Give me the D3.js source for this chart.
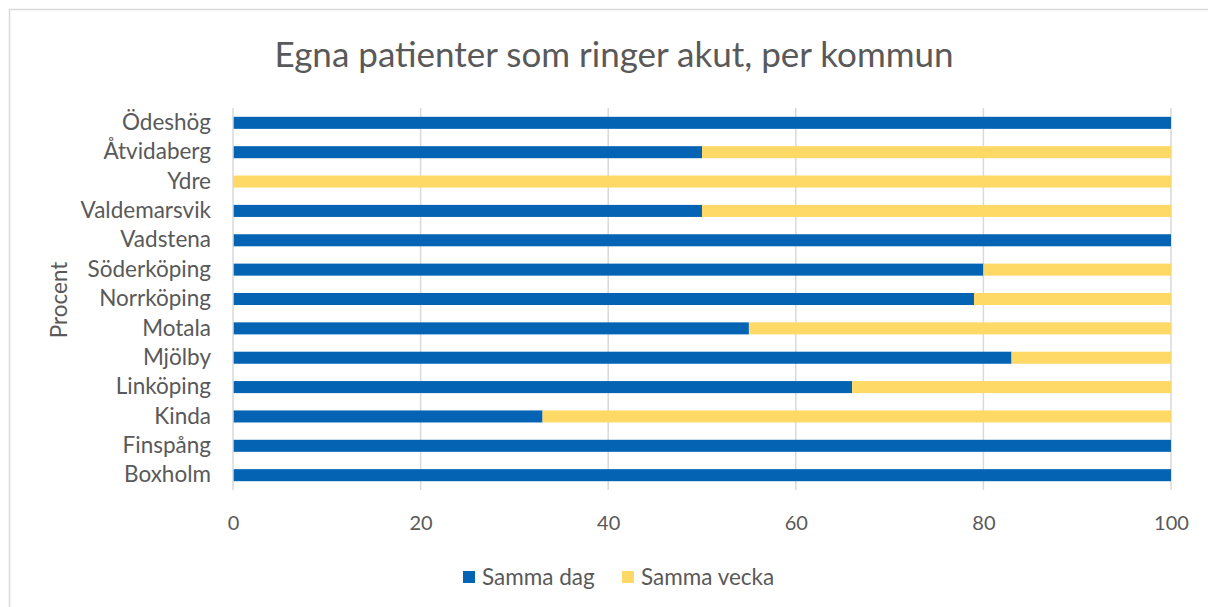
<!DOCTYPE html>
<html>
<head>
<meta charset="utf-8">
<script src="https://cdn.jsdelivr.net/npm/d3@7"></script>
<style>
  body { margin: 0; background: #fff; }
  svg { display: block; font-family: Lato, "Open Sans", sans-serif; }
</style>
</head>
<body>
<svg id="chart" width="1208" height="607"></svg>
<script>
const categories = ["Boxholm", "Finspång", "Kinda", "Linköping", "Mjölby", "Motala", "Norrköping",
  "Söderköping", "Vadstena", "Valdemarsvik", "Ydre", "Åtvidaberg", "Ödeshög"];
const sammaDag = [100, 100, 33, 66, 83, 55, 79, 80, 100, 50, 0, 50, 100];
const sammaVecka = [0, 0, 67, 34, 17, 45, 21, 20, 0, 50, 100, 50, 0];
const seriesNames = ["Samma dag", "Samma vecka"];
const xTicks = [0, 20, 40, 60, 80, 100];

const colors = ["#0563B4", "#FFD966"];
const textColor = "#595959";

const svg = d3.select("#chart");

// outer chart border
svg.append("rect")
  .attr("x", 9.5).attr("y", 9.5)
  .attr("width", 1220).attr("height", 620)
  .attr("fill", "none")
  .attr("stroke", "#d9d9d9")
  .attr("stroke-width", 1.5);

const plotLeft = 233, plotRight = 1171, plotTop = 108, plotBottom = 490;

const x = d3.scaleLinear().domain([0, 100]).range([plotLeft, plotRight]);
const y = d3.scaleBand()
  .domain(categories.slice().reverse())
  .range([plotTop, plotBottom])
  .paddingInner(0.59)
  .paddingOuter(0.3);

// title
svg.append("text")
  .attr("x", 614).attr("y", 67)
  .attr("text-anchor", "middle")
  .attr("fill", textColor)
  .attr("font-size", "35px")
  .text("Egna patienter som ringer akut, per kommun");

// gridlines
svg.append("g")
  .selectAll("line")
  .data(xTicks.filter(d => d > 0))
  .enter()
  .append("line")
  .attr("x1", d => x(d)).attr("x2", d => x(d))
  .attr("y1", plotTop).attr("y2", plotBottom)
  .attr("stroke", "#d9d9d9")
  .attr("stroke-width", 1.5);

// stacked data
const rows = categories.map((c, i) => ({ cat: c, "Samma dag": sammaDag[i], "Samma vecka": sammaVecka[i] }));
const stack = d3.stack().keys(seriesNames)(rows);

svg.append("g")
  .selectAll("g")
  .data(stack)
  .enter()
  .append("g")
  .attr("fill", (d, i) => colors[i])
  .selectAll("rect")
  .data(d => d)
  .enter()
  .append("rect")
  .attr("x", d => x(d[0]))
  .attr("y", d => y(d.data.cat))
  .attr("width", d => x(d[1]) - x(d[0]))
  .attr("height", y.bandwidth());

// y axis line
svg.append("line")
  .attr("x1", plotLeft).attr("x2", plotLeft)
  .attr("y1", plotTop).attr("y2", plotBottom)
  .attr("stroke", "#d9d9d9")
  .attr("stroke-width", 1.5);

// category labels
const yAxis = svg.append("g")
  .attr("transform", `translate(${plotLeft},0)`)
  .call(d3.axisLeft(y).tickSize(0).tickPadding(22));
yAxis.select(".domain").remove();
yAxis.selectAll("text")
  .attr("fill", textColor)
  .attr("font-size", "22.5px")
  .attr("font-family", "Lato, 'Open Sans', sans-serif");

// x tick labels
const xAxis = svg.append("g")
  .attr("transform", `translate(0,${plotBottom})`)
  .call(d3.axisBottom(x).tickValues(xTicks).tickSize(0).tickPadding(26));
xAxis.select(".domain").remove();
xAxis.selectAll("text")
  .attr("fill", textColor)
  .attr("font-size", "20px")
  .attr("font-family", "Lato, 'Open Sans', sans-serif");

// axis title
svg.append("text")
  .attr("transform", "translate(67,300) rotate(-90)")
  .attr("text-anchor", "middle")
  .attr("fill", textColor)
  .attr("font-size", "22.5px")
  .text("Procent");

// legend
const legendX = [463, 622];
const legend = svg.append("g")
  .selectAll("g")
  .data(seriesNames)
  .enter()
  .append("g")
  .attr("transform", (d, i) => `translate(${legendX[i]},571)`);
legend.append("rect")
  .attr("width", 12).attr("height", 12)
  .attr("fill", (d, i) => colors[i]);
legend.append("text")
  .attr("x", 19).attr("y", 14)
  .attr("fill", textColor)
  .attr("font-size", "22.5px")
  .text(d => d);
</script>
</body>
</html>
